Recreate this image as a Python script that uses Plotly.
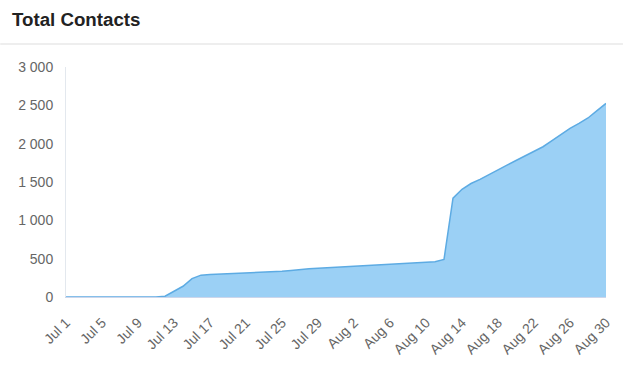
import plotly.graph_objects as go
import pandas as pd

dates = pd.date_range("2020-07-01", "2020-08-30", freq="D").strftime("%Y-%m-%d").tolist()
contacts = [
    0, 0, 0, 0, 0, 0, 0, 0, 0, 0, 0,          # Jul 1-11
    10, 80, 140, 240, 285, 292, 297, 302, 306,  # Jul 12-20
    310, 316, 322, 328, 335, 345, 362, 370, 375,  # Jul 21-29
    380, 388, 396, 402, 408, 414, 420, 428,      # Jul 30 - Aug 6
    434, 440, 445, 452, 460, 490,                # Aug 7-12
    1290, 1405, 1480, 1535, 1600, 1665, 1720,    # Aug 13-19
    1780, 1840, 1900, 1960, 2040, 2120, 2200,    # Aug 20-26
    2265, 2335, 2430, 2525,                      # Aug 27-30
]
tick_dates = dates[::4]
tick_labels = [pd.Timestamp(d).strftime("%b ") + str(pd.Timestamp(d).day) for d in tick_dates]
y_ticks = [0, 500, 1000, 1500, 2000, 2500, 3000]

fig = go.Figure()
fig.add_trace(go.Scatter(
    x=dates, y=contacts, mode="lines", fill="tozeroy",
    line=dict(color="#5dabe3", width=1.5),
    fillcolor="#9bd0f5", hoverinfo="skip",
))

fig.update_layout(
    width=625, height=369,
    margin=dict(l=66, r=17, t=67, b=72),
    paper_bgcolor="white", plot_bgcolor="white",
    showlegend=False,
    separators=". ",
    font=dict(family="Liberation Sans, Arial, sans-serif", color="#666666"),
    title=dict(
        text="<b>Total Contacts</b>",
        font=dict(size=18.7, color="#222222", family="Liberation Sans, Arial, sans-serif"),
        xref="container", yref="container",
        x=12 / 625, xanchor="left", y=1 - 19 / 369, yanchor="middle",
    ),
    xaxis=dict(
        range=[dates[0], dates[-1]],
        tickvals=tick_dates, ticktext=tick_labels,
        tickangle=-45, tickfont=dict(size=14, color="#666666"),
        showgrid=False, zeroline=False, showline=True, linecolor="#ccd6eb",
        ticks="", ticklabelstandoff=11,
    ),
    yaxis=dict(
        range=[0, 3000], tickvals=y_ticks, tickformat=",d",
        tickfont=dict(size=14, color="#666666"),
        showgrid=False, zeroline=False, showline=True, linecolor="#e3e8ee",
        ticks="", ticklabelstandoff=9,
    ),
    shapes=[dict(
        type="line", xref="paper", yref="paper",
        x0=-66 / 542, x1=(625 - 66) / 542,
        y0=(297 - 44) / 230, y1=(297 - 44) / 230,
        line=dict(color="#dddddd", width=1),
    )],
)

fig.write_html(
    "out.html",
    config={"displayModeBar": False},
    post_script="document.body.style.margin='0';document.body.style.overflow='hidden';",
)
